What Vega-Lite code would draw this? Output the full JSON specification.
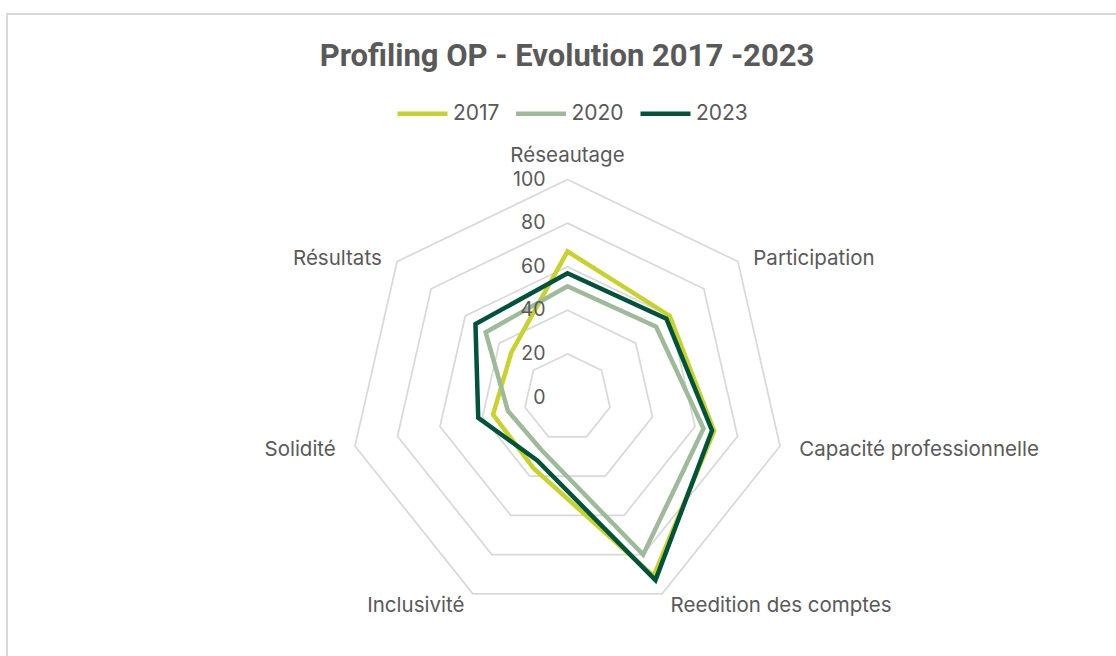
{
  "$schema": "https://vega.github.io/schema/vega-lite/v6.json",
  "width": 1116,
  "height": 656,
  "autosize": {"type": "none"},
  "padding": {"left": 7, "top": 14, "right": 0, "bottom": 0},
  "background": "white",
  "config": {"view": {"stroke": "#d9d9d9", "strokeWidth": 2}},
  "title": {
    "text": "Profiling OP - Evolution 2017 -2023",
    "font": "Roboto",
    "fontSize": 31,
    "fontWeight": "bold",
    "color": "#595959",
    "anchor": "middle",
    "frame": "group",
    "baseline": "alphabetic",
    "offset": -83,
    "dx": 2
  },
  "datasets": {
    "axes": [
      {"idx": 0, "name": "Réseautage", "v2017": 67, "v2020": 51, "v2023": 57},
      {"idx": 1, "name": "Participation", "v2017": 60, "v2020": 52, "v2023": 58},
      {"idx": 2, "name": "Capacité professionnelle", "v2017": 69, "v2020": 64, "v2023": 68},
      {"idx": 3, "name": "Reedition des comptes", "v2017": 91, "v2020": 80, "v2023": 93},
      {"idx": 4, "name": "Inclusivité", "v2017": 36, "v2020": 27, "v2023": 32},
      {"idx": 5, "name": "Solidité", "v2017": 35, "v2020": 28, "v2023": 42},
      {"idx": 6, "name": "Résultats", "v2017": 33, "v2020": 48, "v2023": 54}
    ],
    "grid": [
      {"ring": 20, "idx": 0}, {"ring": 20, "idx": 1}, {"ring": 20, "idx": 2}, {"ring": 20, "idx": 3}, {"ring": 20, "idx": 4}, {"ring": 20, "idx": 5}, {"ring": 20, "idx": 6},
      {"ring": 40, "idx": 0}, {"ring": 40, "idx": 1}, {"ring": 40, "idx": 2}, {"ring": 40, "idx": 3}, {"ring": 40, "idx": 4}, {"ring": 40, "idx": 5}, {"ring": 40, "idx": 6},
      {"ring": 60, "idx": 0}, {"ring": 60, "idx": 1}, {"ring": 60, "idx": 2}, {"ring": 60, "idx": 3}, {"ring": 60, "idx": 4}, {"ring": 60, "idx": 5}, {"ring": 60, "idx": 6},
      {"ring": 80, "idx": 0}, {"ring": 80, "idx": 1}, {"ring": 80, "idx": 2}, {"ring": 80, "idx": 3}, {"ring": 80, "idx": 4}, {"ring": 80, "idx": 5}, {"ring": 80, "idx": 6},
      {"ring": 100, "idx": 0}, {"ring": 100, "idx": 1}, {"ring": 100, "idx": 2}, {"ring": 100, "idx": 3}, {"ring": 100, "idx": 4}, {"ring": 100, "idx": 5}, {"ring": 100, "idx": 6}
    ],
    "ticks": [
      {"ring": 0}, {"ring": 20}, {"ring": 40}, {"ring": 60}, {"ring": 80}, {"ring": 100}
    ]
  },
  "layer": [
    {
      "data": {"name": "grid"},
      "transform": [
        {"calculate": "datum.idx * 2 * PI / 7", "as": "a"},
        {"calculate": "datum.ring * sin(datum.a)", "as": "px"},
        {"calculate": "datum.ring * cos(datum.a)", "as": "py"}
      ],
      "mark": {"type": "line", "interpolate": "linear-closed", "stroke": "#d9d9d9", "strokeWidth": 1.75},
      "encoding": {
        "x": {"field": "px", "type": "quantitative", "scale": {"domain": [-257.11, 254.82], "nice": false, "zero": false}, "axis": null},
        "y": {"field": "py", "type": "quantitative", "scale": {"domain": [-125.0, 175.92], "nice": false, "zero": false}, "axis": null},
        "detail": {"field": "ring", "type": "nominal"},
        "order": {"field": "idx", "type": "quantitative"}
      }
    },
    {
      "data": {"name": "axes"},
      "transform": [
        {"fold": ["v2017", "v2020", "v2023"], "as": ["key", "value"]},
        {"calculate": "substring(datum.key, 1)", "as": "series"},
        {"calculate": "datum.idx * 2 * PI / 7", "as": "a"},
        {"calculate": "datum.value * sin(datum.a)", "as": "px"},
        {"calculate": "datum.value * cos(datum.a)", "as": "py"}
      ],
      "mark": {"type": "line", "interpolate": "linear-closed", "strokeWidth": 4.5},
      "encoding": {
        "x": {"field": "px", "type": "quantitative", "scale": {"domain": [-257.11, 254.82], "nice": false, "zero": false}, "axis": null},
        "y": {"field": "py", "type": "quantitative", "scale": {"domain": [-125.0, 175.92], "nice": false, "zero": false}, "axis": null},
        "color": {
          "field": "series",
          "type": "nominal",
          "scale": {"domain": ["2017", "2020", "2023"], "range": ["#c8d22e", "#9dbb98", "#00533b"]},
          "legend": {
            "title": null,
            "orient": "none",
            "direction": "horizontal",
            "legendX": 388,
            "legendY": 72,
            "symbolType": "stroke",
            "symbolSize": 2500,
            "symbolStrokeWidth": 4.5,
            "labelFont": "Inter",
            "labelFontSize": 21,
            "labelColor": "#595959",
            "labelOffset": 3,
            "columnPadding": 6.5,
            "padding": 0
          }
        },
        "order": {"field": "idx", "type": "quantitative"}
      }
    },
    {
      "data": {"name": "ticks"},
      "transform": [
        {"calculate": "0", "as": "px"},
        {"calculate": "datum.ring", "as": "py"}
      ],
      "mark": {"type": "text", "align": "right", "baseline": "middle", "dx": -22, "font": "Inter", "fontSize": 19.5, "color": "#595959"},
      "encoding": {
        "x": {"field": "px", "type": "quantitative", "scale": {"domain": [-257.11, 254.82], "nice": false, "zero": false}, "axis": null},
        "y": {"field": "py", "type": "quantitative", "scale": {"domain": [-125.0, 175.92], "nice": false, "zero": false}, "axis": null},
        "text": {"field": "ring", "type": "quantitative"}
      }
    },
    {
      "data": {"name": "axes"},
      "transform": [
        {"calculate": "datum.idx * 2 * PI / 7", "as": "a"},
        {"calculate": "datum.idx == 0 ? 108 : 109", "as": "lr"},
        {"calculate": "datum.lr * sin(datum.a)", "as": "px"},
        {"calculate": "datum.lr * cos(datum.a)", "as": "py"}
      ],
      "mark": {
        "type": "text",
        "font": "Inter",
        "fontSize": 20.5,
        "color": "#595959",
        "align": {"expr": "datum.idx == 0 ? 'center' : (datum.idx < 4 ? 'left' : 'right')"},
        "baseline": {"expr": "(datum.idx == 0 || datum.idx == 3 || datum.idx == 4) ? 'alphabetic' : ((datum.idx == 2 || datum.idx == 5) ? 'middle' : 'top')"}
      },
      "encoding": {
        "x": {"field": "px", "type": "quantitative", "scale": {"domain": [-257.11, 254.82], "nice": false, "zero": false}, "axis": null},
        "y": {"field": "py", "type": "quantitative", "scale": {"domain": [-125.0, 175.92], "nice": false, "zero": false}, "axis": null},
        "text": {"field": "name", "type": "nominal"}
      }
    }
  ]
}
